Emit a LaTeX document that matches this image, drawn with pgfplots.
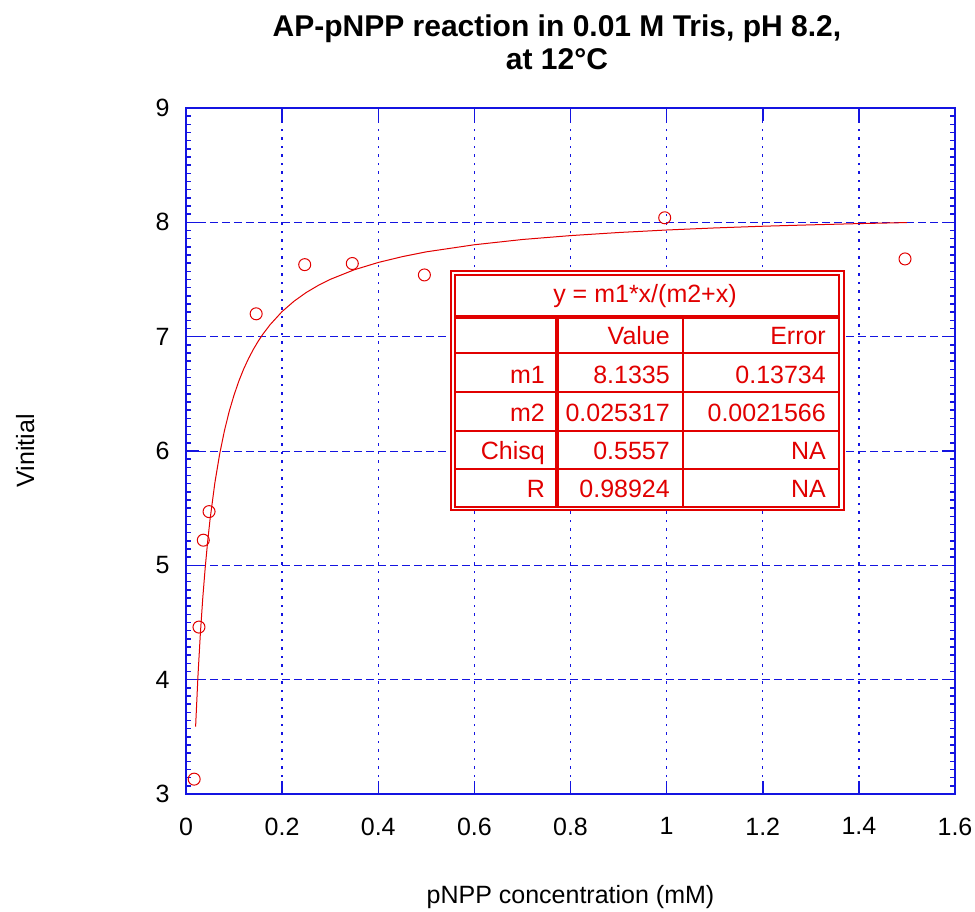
\documentclass[border=0pt]{standalone}
\usepackage{pgfplots}
\pgfplotsset{compat=1.18}
\usepackage{fontspec}
\setmainfont{Liberation Sans}
\definecolor{gblue}{RGB}{20,20,225}
\definecolor{pred}{RGB}{225,0,0}
\begin{document}
\begin{tikzpicture}[x=1pt,y=1pt]
\useasboundingbox (0,0) rectangle (975,-911);
\begin{axis}[at={(186pt,-794pt)}, anchor=south west,
  width=769pt, height=686pt, scale only axis,
  xmin=0, xmax=1.6, ymin=3, ymax=9,
  xtick={0,0.2,0.4,0.6,0.8,1,1.2,1.4,1.6},
  ytick={3,4,5,6,7,8,9},
  minor y tick num=13,
  /pgf/number format/assume math mode=true,
  tick label style={font=\fontsize{25}{30}\selectfont},
  yticklabel style={xshift=-13pt},
  xticklabel style={yshift=-20pt},
  tick align=inside,
  major tick length=13pt, minor tick length=5pt,
  tick style={gblue, line width=1.5pt},
  axis line style={gblue, line width=2pt},
  grid=major,
  major x grid style={gblue, line width=1.3pt, dash pattern=on 2.5pt off 6pt},
  major y grid style={gblue, line width=1pt, dash pattern=on 8pt off 4pt},
  title={AP-pNPP reaction in 0.01 M Tris, pH 8.2,\\at 12°C},
  title style={font=\bfseries\fontsize{30}{33}\selectfont, align=center,
    at={(axis description cs:0.4824,1.0875)}, anchor=center},
  xlabel={pNPP concentration (mM)},
  xlabel style={font=\fontsize{25}{30}\selectfont, at={(axis description cs:0.5,-0.150)}, anchor=center},
  ylabel={Vinitial},
  ylabel style={font=\fontsize{25}{30}\selectfont, at={(axis description cs:-0.209,0.5)}, anchor=center, rotate=0},
]
\addplot[pred, line width=1pt, mark=none] coordinates {
(0.02,3.590) (0.025,4.041) (0.03,4.411) (0.035,4.720) (0.04,4.981) (0.045,5.205)
(0.05,5.400) (0.06,5.720) (0.07,5.973) (0.08,6.178) (0.09,6.348) (0.1,6.490)
(0.11,6.612) (0.12,6.717) (0.13,6.808) (0.14,6.888) (0.15,6.959) (0.16,7.022)
(0.175,7.105) (0.2,7.220) (0.225,7.311) (0.25,7.386) (0.275,7.448) (0.3,7.501)
(0.35,7.585) (0.4,7.649) (0.45,7.700)
(0.5,7.742) (0.6,7.804) (0.7,7.850) (0.8,7.884) (0.9,7.911) (1.0,7.933)
(1.1,7.951) (1.2,7.966) (1.3,7.978) (1.4,7.989) (1.5,7.998)
};
\addplot[pred, only marks, mark=o, mark size=6pt, line width=1pt] coordinates {
(0.017,3.13) (0.027,4.46) (0.036,5.22) (0.048,5.47) (0.146,7.20)
(0.247,7.63) (0.346,7.64) (0.496,7.54) (0.996,8.04) (1.496,7.68)
};
\end{axis}
% fit table
\fill[white] (451,-271) rectangle (844,-510);
\draw[pred, line width=2.5pt] (451,-271) rectangle (844,-510);
\draw[pred, line width=1.5pt] (455,-275) rectangle (839,-507);
\draw[pred, line width=4pt] (455,-317) -- (839,-317);
\draw[pred, line width=2pt] (455,-353) -- (839,-353);
\draw[pred, line width=2pt] (455,-392) -- (839,-392);
\draw[pred, line width=2pt] (455,-431) -- (839,-431);
\draw[pred, line width=2pt] (455,-469) -- (839,-469);
\draw[pred, line width=4pt] (557,-317) -- (557,-507);
\draw[pred, line width=2pt] (683,-317) -- (683,-507);
\begin{scope}[every node/.style={text=pred, font=\fontsize{25}{30}\selectfont, inner sep=0pt}]
\node[anchor=base] at (645,-302) {y = m1*x/(m2+x)};
\node[anchor=base east] at (670,-344) {Value};
\node[anchor=base east] at (826,-344) {Error};
\node[anchor=base east] at (545,-383) {m1};
\node[anchor=base east] at (670,-383) {8.1335};
\node[anchor=base east] at (826,-383) {0.13734};
\node[anchor=base east] at (545,-421) {m2};
\node[anchor=base east] at (670,-421) {0.025317};
\node[anchor=base east] at (826,-421) {0.0021566};
\node[anchor=base east] at (545,-459) {Chisq};
\node[anchor=base east] at (670,-459) {0.5557};
\node[anchor=base east] at (826,-459) {NA};
\node[anchor=base east] at (545,-497) {R};
\node[anchor=base east] at (670,-497) {0.98924};
\node[anchor=base east] at (826,-497) {NA};
\end{scope}
\end{tikzpicture}
\end{document}
